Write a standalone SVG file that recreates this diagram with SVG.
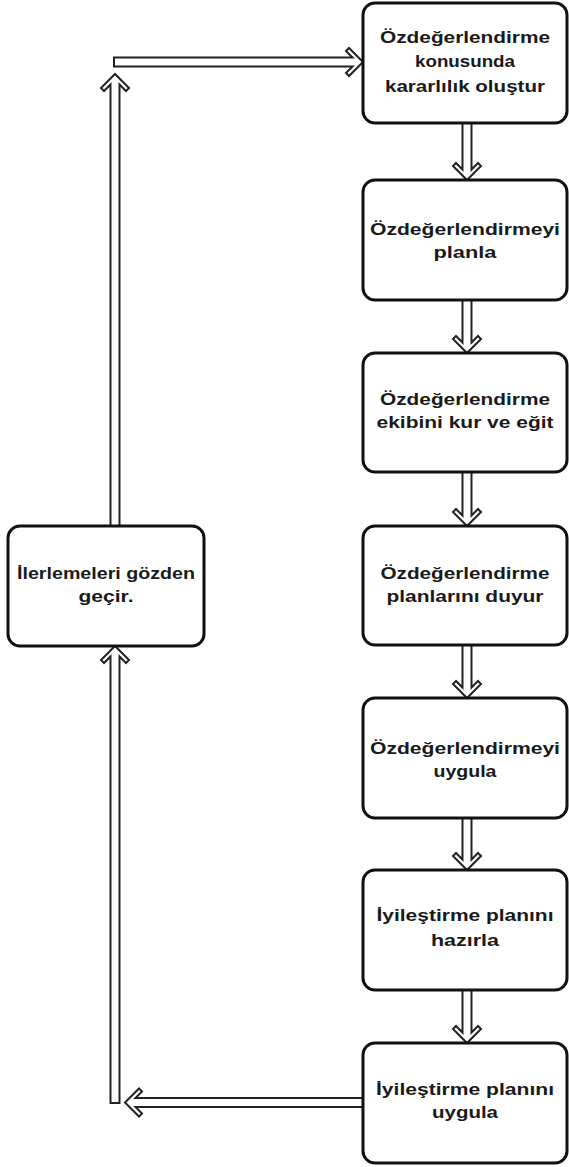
<svg xmlns="http://www.w3.org/2000/svg" width="569" height="1167" viewBox="0 0 569 1167">
<style>
.box{fill:#fff;stroke:#111;stroke-width:3}
.arr{fill:#fff;stroke:#222;stroke-width:2;stroke-linejoin:miter}
text{font-family:"Liberation Sans",Arial,sans-serif;font-weight:bold;font-size:17px;fill:#1a1a1a;text-anchor:middle}
</style>
<rect width="569" height="1167" fill="#fff"/>
<g id="connectors">
<path class="arr" d="M462.5,123 L471.5,123 L471.5,169.5 L478,163 L481,166 L467,180 L453,166 L456,163 L462.5,169.5 Z"/>
<path class="arr" d="M462.5,300 L471.5,300 L471.5,342.5 L478,336 L481,339 L467,353 L453,339 L456,336 L462.5,342.5 Z"/>
<path class="arr" d="M462.5,472 L471.5,472 L471.5,515.5 L478,509 L481,512 L467,526 L453,512 L456,509 L462.5,515.5 Z"/>
<path class="arr" d="M462.5,645 L471.5,645 L471.5,687.5 L478,681 L481,684 L467,698 L453,684 L456,681 L462.5,687.5 Z"/>
<path class="arr" d="M462.5,818 L471.5,818 L471.5,859.5 L478,853 L481,856 L467,870 L453,856 L456,853 L462.5,859.5 Z"/>
<path class="arr" d="M462.5,990 L471.5,990 L471.5,1032.5 L478,1026 L481,1029 L467,1043 L453,1029 L456,1026 L462.5,1032.5 Z"/>
<path class="arr" d="M114,57.5 L352.5,57.5 L346,51 L349,48 L363,62 L349,76 L346,73 L352.5,66.5 L114,66.5 Z"/>
<path class="arr" d="M110.5,526 L110.5,84.5 L104,91 L101,88 L115,74 L129,88 L126,91 L119.5,84.5 L119.5,526 Z"/>
<path class="arr" d="M110.5,1103 L110.5,656.5 L104,663 L101,660 L115,646 L129,660 L126,663 L119.5,656.5 L119.5,1103 Z"/>
<path class="arr" d="M363,1098 L135.5,1098 L142,1091.5 L139,1088.5 L125,1102.5 L139,1116.5 L142,1113.5 L135.5,1107 L363,1107 Z"/>
</g>
<g id="n1">
<rect class="box" x="363" y="3" width="204" height="120" rx="12"/>
<text x="465" y="43" textLength="170" lengthAdjust="spacingAndGlyphs">Özdeğerlendirme</text>
<text x="465" y="67" textLength="100" lengthAdjust="spacingAndGlyphs">konusunda</text>
<text x="465" y="92" textLength="160" lengthAdjust="spacingAndGlyphs">kararlılık oluştur</text>
</g>
<g id="n2">
<rect class="box" x="363" y="180" width="204" height="120" rx="12"/>
<text x="465" y="235" textLength="190" lengthAdjust="spacingAndGlyphs">Özdeğerlendirmeyi</text>
<text x="465" y="258" textLength="63" lengthAdjust="spacingAndGlyphs">planla</text>
</g>
<g id="n3">
<rect class="box" x="363" y="353" width="204" height="119" rx="12"/>
<text x="465" y="405" textLength="170" lengthAdjust="spacingAndGlyphs">Özdeğerlendirme</text>
<text x="465" y="428" textLength="177" lengthAdjust="spacingAndGlyphs">ekibini kur ve eğit</text>
</g>
<g id="n4">
<rect class="box" x="363" y="526" width="204" height="119" rx="12"/>
<text x="465" y="579" textLength="169" lengthAdjust="spacingAndGlyphs">Özdeğerlendirme</text>
<text x="465" y="602" textLength="157" lengthAdjust="spacingAndGlyphs">planlarını duyur</text>
</g>
<g id="n5">
<rect class="box" x="363" y="698" width="204" height="120" rx="12"/>
<text x="465" y="754" textLength="190" lengthAdjust="spacingAndGlyphs">Özdeğerlendirmeyi</text>
<text x="465" y="777" textLength="63" lengthAdjust="spacingAndGlyphs">uygula</text>
</g>
<g id="n6">
<rect class="box" x="363" y="870" width="204" height="120" rx="12"/>
<text x="465" y="921" textLength="177" lengthAdjust="spacingAndGlyphs">İyileştirme planını</text>
<text x="465" y="946" textLength="68" lengthAdjust="spacingAndGlyphs">hazırla</text>
</g>
<g id="n7">
<rect class="box" x="363" y="1043" width="204" height="120" rx="12"/>
<text x="465" y="1095" textLength="178" lengthAdjust="spacingAndGlyphs">İyileştirme planını</text>
<text x="465" y="1118" textLength="66" lengthAdjust="spacingAndGlyphs">uygula</text>
</g>
<g id="n8">
<rect class="box" x="8" y="526" width="196" height="120" rx="12"/>
<text x="106" y="579" textLength="178" lengthAdjust="spacingAndGlyphs">İlerlemeleri gözden</text>
<text x="106" y="602" textLength="55" lengthAdjust="spacingAndGlyphs">geçir.</text>
</g>
</svg>
